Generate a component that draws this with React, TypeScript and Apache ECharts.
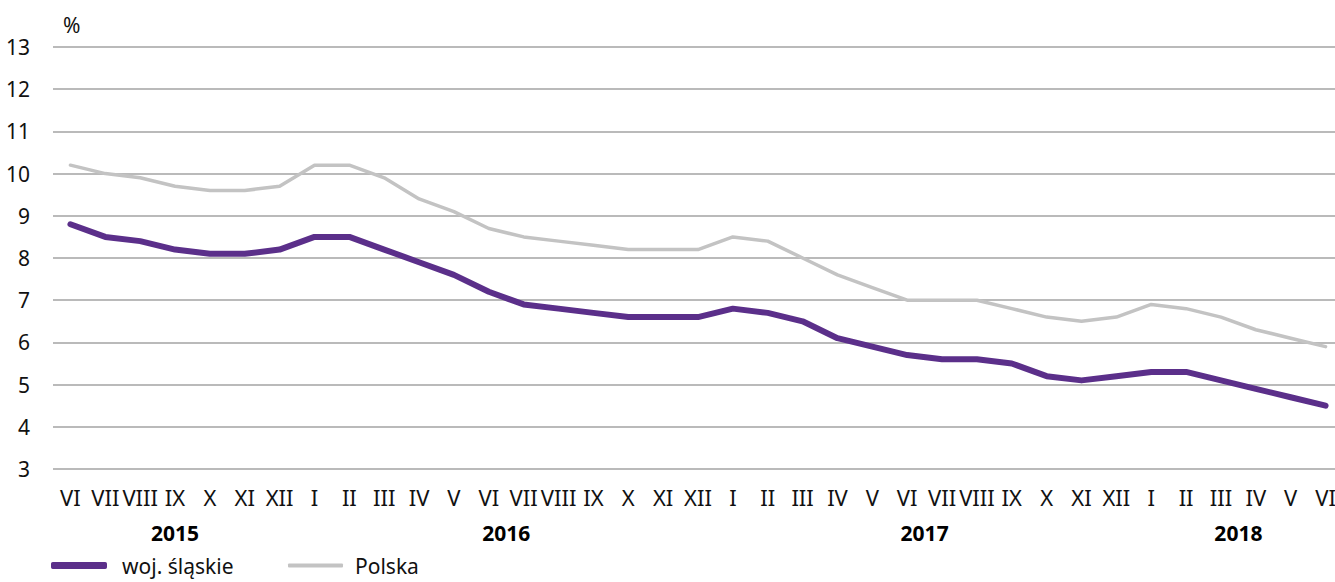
import React, { useEffect, useRef } from "react";
import * as echarts from "echarts";

const months = [
  "VI", "VII", "VIII", "IX", "X", "XI", "XII",
  "I", "II", "III", "IV", "V", "VI", "VII", "VIII", "IX", "X", "XI", "XII",
  "I", "II", "III", "IV", "V", "VI", "VII", "VIII", "IX", "X", "XI", "XII",
  "I", "II", "III", "IV", "V", "VI",
];
const yearLabels = ["2015", "2016", "2017", "2018"];
const yearMonthCounts = [7, 12, 12, 6];

const slaskie = [
  8.8, 8.5, 8.4, 8.2, 8.1, 8.1, 8.2,
  8.5, 8.5, 8.2, 7.9, 7.6, 7.2, 6.9, 6.8, 6.7, 6.6, 6.6, 6.6,
  6.8, 6.7, 6.5, 6.1, 5.9, 5.7, 5.6, 5.6, 5.5, 5.2, 5.1, 5.2,
  5.3, 5.3, 5.1, 4.9, 4.7, 4.5,
];
const polska = [
  10.2, 10.0, 9.9, 9.7, 9.6, 9.6, 9.7,
  10.2, 10.2, 9.9, 9.4, 9.1, 8.7, 8.5, 8.4, 8.3, 8.2, 8.2, 8.2,
  8.5, 8.4, 8.0, 7.6, 7.3, 7.0, 7.0, 7.0, 6.8, 6.6, 6.5, 6.6,
  6.9, 6.8, 6.6, 6.3, 6.1, 5.9,
];

const seriesNames = ["woj. śląskie", "Polska"];
const FONT = "'Noto Sans', 'DejaVu Sans', sans-serif";

export default function App() {
  const ref = useRef<HTMLDivElement>(null);
  useEffect(() => {
    if (!ref.current) return;
    const chart = echarts.init(ref.current, undefined, { renderer: "svg" });

    const yearAt: Record<string, string> = {};
    let start = 0;
    yearLabels.forEach((y, i) => {
      const c = start + (yearMonthCounts[i] - 1) / 2;
      yearAt[c.toFixed(1)] = y;
      start += yearMonthCounts[i];
    });

    chart.setOption({
      animation: false,
      textStyle: { fontFamily: FONT },
      grid: { left: 53, right: 7, top: 47, bottom: 113, containLabel: false },
      graphic: [
        {
          type: "text",
          left: 63,
          top: 14,
          style: { text: "%", fontSize: 21, fill: "#111", fontFamily: FONT },
        },
      ],
      legend: [
        {
          data: [seriesNames[0]],
          left: 46,
          top: 550,
          itemWidth: 56,
          itemHeight: 7,
          icon: "roundRect",
          textStyle: { fontSize: 21, color: "#111", fontFamily: FONT, padding: [0, 0, 0, 10] },
        },
        {
          data: [seriesNames[1]],
          left: 283,
          top: 550,
          itemWidth: 55,
          itemHeight: 4,
          icon: "roundRect",
          textStyle: { fontSize: 21, color: "#111", fontFamily: FONT, padding: [0, 0, 0, 7] },
        },
      ],
      xAxis: [
        {
          type: "category",
          data: months,
          boundaryGap: true,
          axisLine: { show: false },
          axisTick: { show: false },
          axisLabel: { interval: 0, fontSize: 22, color: "#111", margin: 17, fontFamily: FONT },
        },
        {
          type: "value",
          position: "bottom",
          min: -0.5,
          max: months.length - 0.5,
          interval: 0.5,
          axisLine: { show: false },
          axisTick: { show: false },
          splitLine: { show: false },
          axisLabel: {
            fontSize: 21,
            fontWeight: "bold",
            color: "#000",
            margin: 53,
            fontFamily: FONT,
            showMinLabel: true,
            showMaxLabel: true,
            formatter: (v: number) => yearAt[v.toFixed(1)] || "",
          },
        },
      ],
      yAxis: {
        type: "value",
        min: 3,
        max: 13,
        interval: 1,
        axisLine: { show: false },
        axisTick: { show: false },
        axisLabel: { fontSize: 21, color: "#111", margin: 23, fontFamily: FONT },
        splitLine: { lineStyle: { color: "#a3a3a3", width: 1.5 } },
      },
      series: [
        {
          name: seriesNames[0],
          type: "line",
          data: slaskie,
          showSymbol: false,
          symbol: "none",
          itemStyle: { color: "#5b2f8a" },
          lineStyle: { color: "#5b2f8a", width: 6, cap: "round", join: "round" },
          z: 3,
        },
        {
          name: seriesNames[1],
          type: "line",
          data: polska,
          showSymbol: false,
          symbol: "none",
          itemStyle: { color: "#c3c3c3" },
          lineStyle: { color: "#c3c3c3", width: 3.5, cap: "round", join: "round" },
          z: 2,
        },
      ],
    });
    return () => chart.dispose();
  }, []);

  return (
    <div style={{ position: "fixed", left: 0, top: 0, width: 1335, height: 582, overflow: "hidden", background: "#fff" }}>
      <div ref={ref} style={{ width: 1350, height: 582 }} />
    </div>
  );
}
